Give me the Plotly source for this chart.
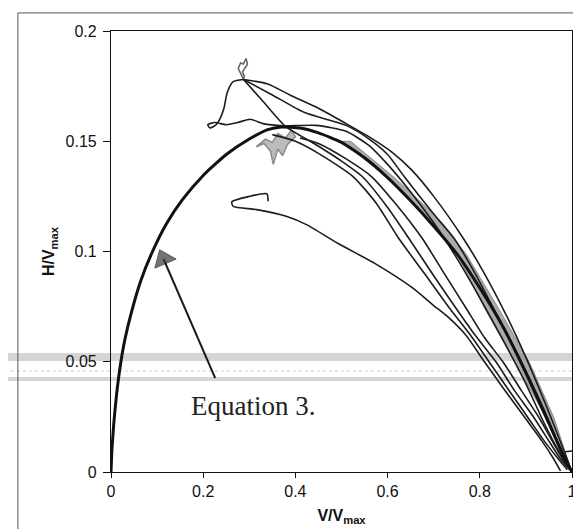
import plotly.graph_objects as go

# ---------------- data ----------------
eq_x = [0, 0.002, 0.006, 0.012, 0.02, 0.03, 0.045, 0.065, 0.09, 0.12, 0.155, 0.2, 0.25, 0.3, 0.34, 0.37,
        0.41, 0.45, 0.5, 0.55, 0.6, 0.65, 0.7, 0.75, 0.8, 0.85, 0.9, 0.95, 0.98, 1.0]
eq_y = [0, 0.01, 0.022, 0.035, 0.048, 0.06, 0.073, 0.087, 0.1, 0.1125, 0.1235, 0.1345, 0.144, 0.151, 0.1553, 0.1565,
        0.156, 0.1538, 0.1495, 0.1425, 0.1335, 0.123, 0.1115, 0.099, 0.0835, 0.066, 0.045, 0.022, 0.008, 0.0]

c1_x = [0.2875, 0.34, 0.388, 0.45, 0.51, 0.56, 0.61, 0.652, 0.7, 0.764, 0.81, 0.86, 0.9, 0.95, 0.98, 1.0]
c1_y = [0.178, 0.176, 0.171, 0.165, 0.158, 0.152, 0.145, 0.137, 0.125, 0.106, 0.09, 0.07, 0.052, 0.027, 0.011, 0.0]

c2_x = [0.2875, 0.35, 0.42, 0.51, 0.56, 0.6, 0.636, 0.7, 0.744, 0.79, 0.84, 0.89, 0.94, 0.97, 1.0]
c2_y = [0.178, 0.171, 0.163, 0.1572, 0.151, 0.144, 0.134, 0.117, 0.106, 0.09, 0.07, 0.05, 0.028, 0.013, 0.0]

c4_x = [0.2875, 0.33, 0.377, 0.445, 0.5, 0.545, 0.6, 0.646, 0.7, 0.748, 0.79, 0.835, 0.875, 0.918, 0.95, 0.975, 0.995]
c4_y = [0.178, 0.168, 0.157, 0.1484, 0.141, 0.134, 0.12, 0.106, 0.089, 0.0744, 0.062, 0.05, 0.037, 0.0245, 0.014, 0.006, 0.001]

c5_x = [0.35, 0.4, 0.45, 0.525, 0.575, 0.624, 0.68, 0.734, 0.78, 0.82, 0.86, 0.905, 0.94, 0.97, 0.99]
c5_y = [0.153, 0.15, 0.1445, 0.134, 0.122, 0.106, 0.09, 0.0744, 0.062, 0.05, 0.038, 0.0245, 0.014, 0.006, 0.001]

c6_x = [0.41, 0.45, 0.51, 0.565, 0.62, 0.675, 0.72, 0.77, 0.81, 0.85, 0.89, 0.929, 0.96, 0.985, 1.0]
c6_y = [0.1515, 0.149, 0.142, 0.134, 0.121, 0.106, 0.091, 0.0744, 0.061, 0.05, 0.037, 0.0245, 0.013, 0.004, 0.0]

c7_x = [0.2875, 0.265, 0.252, 0.245, 0.237, 0.228, 0.215, 0.21, 0.225, 0.25, 0.275, 0.302, 0.33, 0.373,
        0.445, 0.51, 0.56, 0.6, 0.65, 0.7, 0.75, 0.8, 0.85, 0.9, 0.94, 0.97, 1.0]
c7_y = [0.178, 0.177, 0.172, 0.165, 0.1605, 0.1575, 0.156, 0.1575, 0.1585, 0.1575, 0.1585, 0.16, 0.158, 0.157,
        0.1572, 0.1545, 0.148, 0.1395, 0.127, 0.113, 0.097, 0.079, 0.06, 0.04, 0.022, 0.01, 0.0]

c8_x = [0.341, 0.338, 0.3, 0.262, 0.265, 0.316, 0.38, 0.424, 0.493, 0.573, 0.652, 0.7, 0.732, 0.77, 0.81,
        0.851, 0.9, 0.935, 0.96, 0.975]
c8_y = [0.1228, 0.1262, 0.125, 0.1225, 0.1205, 0.119, 0.116, 0.1122, 0.1036, 0.0945, 0.0838, 0.0755, 0.0701,
        0.062, 0.05, 0.038, 0.024, 0.014, 0.006, 0.0005]

squig_x = [0.2875, 0.281, 0.276, 0.281, 0.287, 0.293, 0.296, 0.29, 0.285, 0.289, 0.2875]
squig_y = [0.178, 0.1805, 0.183, 0.1855, 0.185, 0.1875, 0.185, 0.183, 0.1815, 0.1795, 0.178]

blob_x = [0.315, 0.335, 0.35, 0.362, 0.378, 0.392, 0.4, 0.383, 0.372, 0.362, 0.352, 0.346, 0.332, 0.315]
blob_y = [0.1475, 0.151, 0.1495, 0.1535, 0.1515, 0.155, 0.152, 0.1485, 0.1435, 0.1465, 0.1395, 0.1455, 0.149, 0.1475]

band_x = [0.5, 0.6, 0.68, 0.75, 0.81, 0.875, 0.944, 0.985, 1.0, 0.992, 0.961, 0.907, 0.84, 0.77, 0.7, 0.615, 0.52, 0.5]
band_y = [0.15, 0.1335, 0.117, 0.099, 0.0744, 0.05, 0.0245, 0.005, 0.0, 0.005, 0.0245, 0.05, 0.0744, 0.099, 0.117, 0.1335, 0.15, 0.15]

hook_x = [0.985, 1.0]
hook_y = [0.0092, 0.0095]

arrow_x = [0.226, 0.114]
arrow_y = [0.0426, 0.0966]

x_ticks = [0, 0.2, 0.4, 0.6, 0.8, 1]
y_ticks = [0, 0.05, 0.1, 0.15, 0.2]

# ---------------- figure ----------------
fig = go.Figure()

fig.add_trace(go.Scatter(x=band_x, y=band_y, mode="lines", fill="toself",
                         fillcolor="rgba(135,135,135,0.7)", line=dict(color="rgba(110,110,110,0.7)", width=1),
                         hoverinfo="skip"))
fig.add_trace(go.Scatter(x=blob_x, y=blob_y, mode="lines", fill="toself",
                         fillcolor="rgba(165,165,165,0.75)", line=dict(color="#8a8a8a", width=1.5),
                         hoverinfo="skip"))
fig.add_trace(go.Scatter(x=squig_x, y=squig_y, mode="lines", line=dict(color="#666", width=1.6)))

thin = dict(color="#1c1c1c", width=1.6)
for xs, ys in [(c1_x, c1_y), (c2_x, c2_y), (c4_x, c4_y), (c5_x, c5_y), (c6_x, c6_y),
               (c7_x, c7_y), (c8_x, c8_y), (hook_x, hook_y)]:
    fig.add_trace(go.Scatter(x=xs, y=ys, mode="lines", line=dict(shape="spline", smoothing=0.6, **thin)))

fig.add_trace(go.Scatter(x=eq_x, y=eq_y, mode="lines",
                         line=dict(color="#111", width=3, shape="spline", smoothing=0.5)))

# arrow pointing at the Equation 3 curve
fig.add_trace(go.Scatter(x=arrow_x, y=arrow_y, mode="lines+markers",
                         line=dict(color="#1a1a1a", width=2),
                         marker=dict(symbol="triangle-up", size=[0, 20], angle=-23,
                                     color="#3a3a3a", line=dict(color="#111", width=1))))

# scan artefact bands + outer frame
shapes = [
    dict(type="rect", xref="paper", yref="y", x0=-0.23, x1=1.03, y0=0.0503, y1=0.054,
         fillcolor="rgba(150,150,150,0.4)", line=dict(width=0), layer="below"),
    dict(type="line", xref="paper", yref="y", x0=-0.23, x1=1.03, y0=0.0458, y1=0.0458,
         line=dict(color="rgba(150,150,150,0.5)", width=1, dash="dot"), layer="below"),
    dict(type="rect", xref="paper", yref="y", x0=-0.23, x1=1.03, y0=0.0413, y1=0.0431,
         fillcolor="rgba(150,150,150,0.4)", line=dict(width=0), layer="below"),
    dict(type="rect", xref="paper", yref="paper", x0=-0.202, x1=1.024, y0=-0.143, y1=1.041,
         line=dict(color="#555", width=1), fillcolor="rgba(0,0,0,0)"),
]

fig.add_annotation(x=0.17, y=0.0299, xref="x", yref="y", xanchor="left", yanchor="middle",
                   text="Equation 3.", showarrow=False,
                   font=dict(family="Liberation Serif, Times New Roman, serif", size=27, color="#222"))

axis_font = dict(family="Liberation Sans, Arial, sans-serif", size=16, color="#111")
title_font = dict(family="Liberation Sans, Arial, sans-serif", size=16, color="#111")
fig.update_layout(
    width=581, height=529,
    margin=dict(l=103, r=13, t=23, b=65),
    paper_bgcolor="white", plot_bgcolor="white",
    showlegend=False,
    shapes=shapes,
    xaxis=dict(range=[0, 1], tickvals=x_ticks, ticktext=[f"{v:g}" for v in x_ticks],
               showgrid=False, zeroline=False, showline=True, mirror=True, linecolor="#111", linewidth=1.2,
               ticks="outside", ticklen=5, tickcolor="#111", tickfont=axis_font,
               title=dict(text="<b>V/V<sub>max</sub></b>", font=title_font, standoff=10)),
    yaxis=dict(range=[0, 0.2], tickvals=y_ticks, ticktext=[f"{v:g}" for v in y_ticks],
               showgrid=False, zeroline=False, showline=True, mirror=True, linecolor="#111", linewidth=1.2,
               ticks="outside", ticklen=7, tickcolor="#111", tickfont=axis_font, ticklabelstandoff=3,
               title=dict(text="<b>H/V<sub>max</sub></b>", font=title_font, standoff=6)),
)

fig.write_html("out.html")
